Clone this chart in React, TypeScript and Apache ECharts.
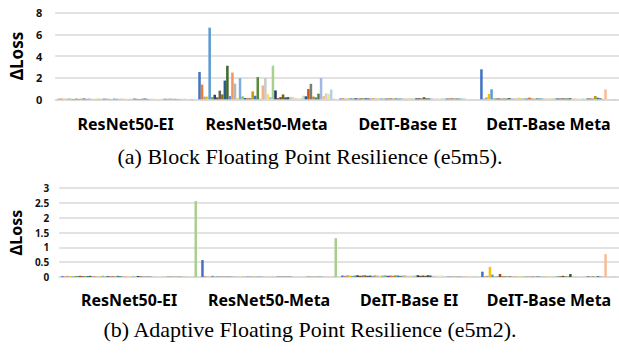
import React, { useEffect, useRef } from "react";
import * as echarts from "echarts";

const categories = ["ResNet50-EI", "ResNet50-Meta", "DeIT-Base EI", "DeIT-Base Meta"];

// (a) Block Floating Point Resilience (e5m5) — one value per layer (54 layers)
const topResNetEI = [0.05, 0.08, 0.04, 0.06, 0.07, 0.05, 0.03, 0.06, 0.04, 0.05, 0.08, 0.04, 0.06, 0.05, 0.03, 0.07, 0.05, 0.04, 0.06, 0.05, 0.04, 0.03, 0.06, 0.05, 0.04, 0.07, 0.05, 0.06, 0.04, 0.05, 0.06, 0.04, 0.03, 0.05, 0.07, 0.04, 0.05, 0.06, 0.04, 0.05, 0.03, 0.06, 0.05, 0.04, 0.06, 0.05, 0.04, 0.03, 0.05, 0.04, 0.06, 0.03, 0.04, 0.03];
const topResNetMeta = [2.52, 1.36, 0.25, 0.25, 6.62, 0.2, 0.42, 0.18, 0.8, 0.45, 1.73, 3.1, 0.3, 2.47, 1.45, 0.1, 1.96, 0.27, 0.12, 0.1, 0.12, 0.73, 0.33, 2.05, 0.05, 1.28, 1.97, 0.48, 0.2, 3.1, 0.82, 0.1, 0.2, 0.45, 0.18, 0.2, 0.2, 0.2, 0.12, 0.1, 0.1, 0.33, 0.28, 0.95, 1.43, 0.25, 0.17, 0.52, 1.97, 0.3, 0.56, 0.5, 0.9, 0.05];
const topDeitEI = [0.08, 0.1, 0.07, 0.09, 0.11, 0.08, 0.1, 0.07, 0.09, 0.08, 0.1, 0.09, 0.07, 0.11, 0.08, 0.09, 0.1, 0.08, 0.07, 0.09, 0.1, 0.08, 0.09, 0.07, 0.1, 0.08, 0.09, 0.11, 0.08, 0.07, 0.09, 0.1, 0.08, 0.2, 0.09, 0.08, 0.1, 0.07, 0.09, 0.08, 0.1, 0.09, 0.07, 0.08, 0.1, 0.09, 0.08, 0.07, 0.09, 0.08, 0.01, 0.01, 0.01, 0.01];
const topDeitMeta = [2.77, 0.06, 0.18, 0.5, 0.92, 0.08, 0.07, 0.09, 0.06, 0.08, 0.07, 0.12, 0.08, 0.07, 0.09, 0.15, 0.08, 0.1, 0.07, 0.15, 0.08, 0.07, 0.09, 0.08, 0.1, 0.07, 0.08, 0.09, 0.07, 0.1, 0.08, 0.07, 0.09, 0.08, 0.07, 0.1, 0.08, 0.09, 0.07, 0.08, 0.09, 0.07, 0.08, 0.09, 0.07, 0.3, 0.15, 0.1, 0.05, 0.92, 0.03, 0.03, 0.03, 0.03];

// (b) Adaptive Floating Point Resilience (e5m2)
const botResNetEI = [0.03, 0.02, 0.04, 0.03, 0.02, 0.03, 0.02, 0.04, 0.03, 0.02, 0.03, 0.04, 0.02, 0.03, 0.02, 0.03, 0.04, 0.02, 0.03, 0.02, 0.03, 0.02, 0.04, 0.03, 0.02, 0.03, 0.02, 0.03, 0.04, 0.02, 0.03, 0.02, 0.01, 0.01, 0.01, 0.01, 0.01, 0.01, 0.01, 0.01, 0.01, 0.01, 0.01, 0.01, 0.01, 0.01, 0.01, 0.01, 0.01, 0.01, 0.01, 0.01, 0.01, 2.56];
const botResNetMeta = [0.57, 0.02, 0.01, 0.01, 0.04, 0.01, 0.01, 0.01, 0.01, 0.01, 0.01, 0.01, 0.01, 0.01, 0.01, 0.01, 0.01, 0.01, 0.01, 0.01, 0.01, 0.01, 0.01, 0.01, 0.01, 0.01, 0.01, 0.01, 0.01, 0.01, 0.01, 0.01, 0.01, 0.01, 0.01, 0.01, 0.01, 0.01, 0.01, 0.01, 0.01, 0.01, 0.01, 0.01, 0.01, 0.01, 0.01, 0.01, 0.01, 0.01, 0.01, 0.01, 0.01, 1.31];
const botDeitEI = [0.05, 0.04, 0.06, 0.05, 0.04, 0.05, 0.06, 0.04, 0.05, 0.06, 0.04, 0.05, 0.04, 0.06, 0.05, 0.04, 0.05, 0.06, 0.04, 0.05, 0.04, 0.06, 0.05, 0.04, 0.05, 0.06, 0.04, 0.05, 0.04, 0.05, 0.06, 0.04, 0.05, 0.04, 0.06, 0.05, 0.04, 0.05, 0.04, 0.05, 0.04, 0.01, 0.01, 0.01, 0.01, 0.01, 0.01, 0.01, 0.01, 0.03, 0.01, 0.01, 0.01, 0.01];
const botDeitMeta = [0.18, 0.02, 0.04, 0.34, 0.08, 0.01, 0.01, 0.1, 0.02, 0.02, 0.01, 0.02, 0.01, 0.02, 0.01, 0.02, 0.01, 0.02, 0.01, 0.01, 0.02, 0.01, 0.02, 0.01, 0.01, 0.02, 0.01, 0.02, 0.01, 0.02, 0.01, 0.02, 0.04, 0.02, 0.01, 0.1, 0.02, 0.01, 0.02, 0.01, 0.02, 0.01, 0.02, 0.01, 0.02, 0.01, 0.03, 0.01, 0.01, 0.77, 0.01, 0.01, 0.01, 0.01];

const palette = [
  "#4472C4", "#ED7D31", "#A5A5A5", "#FFC000", "#5B9BD5", "#70AD47",
  "#264478", "#9E480E", "#636363", "#997300", "#255E91", "#43682B",
  "#698ED0", "#F1975A", "#B7B7B7", "#FFCD33", "#7CAFDD", "#8CC168",
  "#335AA1", "#D26012", "#848484", "#CC9A00", "#327DC2", "#5A8A39",
  "#8FAADC", "#F4B183", "#C9C9C9", "#FFD966", "#9DC3E6", "#A9D18E",
  "#203864", "#843C0C", "#525252", "#7F6000", "#1F4E79", "#385723",
  "#B4C7E7", "#F8CBAD", "#DBDBDB", "#FFE699", "#BDD7EE", "#C5E0B4",
  "#2F5597", "#C55A11", "#7B7B7B", "#BF9000", "#2E75B6", "#548235",
  "#A2B9E4", "#F6BC96", "#D0D0D0", "#FFDF80", "#B0D1EE", "#A9CF8E",
];

const captionA = "(a) Block Floating Point Resilience (e5m5).";
const captionB = "(b) Adaptive Floating Point Resilience (e5m2).";

const SANS = '"Noto Sans", sans-serif';

export default function App() {
  const ref = useRef<HTMLDivElement>(null);
  useEffect(() => {
    if (!ref.current) return;
    const chart = echarts.init(ref.current, undefined, { renderer: "svg" });
    const series: any[] = [];
    for (let i = 0; i < topResNetEI.length; i++) {
      series.push({
        type: "bar",
        xAxisIndex: 0,
        yAxisIndex: 0,
        barGap: "0%",
        barCategoryGap: "3%",
        itemStyle: { color: palette[i % palette.length] },
        data: [topResNetEI[i], topResNetMeta[i], topDeitEI[i], topDeitMeta[i]],
      });
      series.push({
        type: "bar",
        xAxisIndex: 1,
        yAxisIndex: 1,
        barGap: "0%",
        barCategoryGap: "3%",
        itemStyle: { color: palette[i % palette.length] },
        data: [botResNetEI[i], botResNetMeta[i], botDeitEI[i], botDeitMeta[i]],
      });
    }
    const xAxisCommon = {
      type: "category",
      data: categories,
      axisTick: { show: false },
      axisLine: { lineStyle: { color: "#D9D9D9", width: 1.5 } },
    };
    const yAxisCommon = {
      type: "value",
      name: "ΔLoss",
      nameLocation: "middle",
      nameRotate: 90,
      axisLine: { show: false },
      axisTick: { show: false },
      splitLine: { lineStyle: { color: "#D9D9D9", width: 1.5 } },
    };
    chart.setOption({
      animation: false,
      grid: [
        { left: 50, top: 12.7, width: 572, height: 86.6 },
        { left: 55, top: 188, width: 567, height: 89 },
      ],
      xAxis: [
        {
          ...xAxisCommon,
          gridIndex: 0,
          axisLabel: { interval: 0, hideOverlap: false, fontFamily: SANS, fontWeight: "bold", fontSize: 16, color: "#000", margin: 17 },
        },
        {
          ...xAxisCommon,
          gridIndex: 1,
          axisLabel: { interval: 0, hideOverlap: false, fontFamily: SANS, fontWeight: "bold", fontSize: 16, color: "#000", margin: 15 },
        },
      ],
      yAxis: [
        {
          ...yAxisCommon,
          gridIndex: 0,
          min: 0,
          max: 8,
          interval: 2,
          nameGap: 25,
          nameTextStyle: { fontFamily: SANS, fontWeight: "bold", fontSize: 17, color: "#000" },
          axisLabel: { fontFamily: SANS, fontWeight: "bold", fontSize: 11, color: "#111", margin: 13 },
        },
        {
          ...yAxisCommon,
          gridIndex: 1,
          min: 0,
          max: 3,
          interval: 0.5,
          nameGap: 31,
          nameTextStyle: { fontFamily: SANS, fontWeight: "bold", fontSize: 16, color: "#000" },
          axisLabel: { fontFamily: SANS, fontWeight: "bold", fontSize: 10, color: "#111", margin: 10 },
        },
      ],
      graphic: [
        {
          type: "text",
          x: 310,
          y: 156,
          style: {
            text: captionA,
            font: '22px "Liberation Serif", serif',
            fill: "#000",
            align: "center",
            verticalAlign: "middle",
            textAlign: "center",
            textVerticalAlign: "middle",
          },
        },
        {
          type: "text",
          x: 310,
          y: 329,
          style: {
            text: captionB,
            font: '22px "Liberation Serif", serif',
            fill: "#000",
            align: "center",
            verticalAlign: "middle",
            textAlign: "center",
            textVerticalAlign: "middle",
          },
        },
      ],
      series,
    });
    return () => chart.dispose();
  }, []);
  return (
    <div
      ref={ref}
      style={{ position: "absolute", left: 0, top: 0, width: 619, height: 356, background: "#fff" }}
    />
  );
}
